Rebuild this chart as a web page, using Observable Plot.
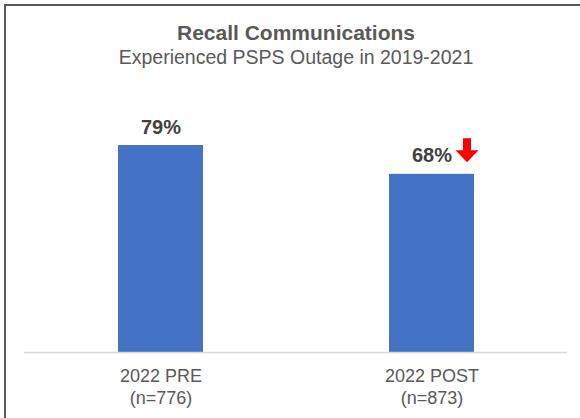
<!DOCTYPE html>
<html>
<head>
<meta charset="utf-8">
<script src="https://cdn.jsdelivr.net/npm/d3@7"></script>
<script src="https://cdn.jsdelivr.net/npm/@observablehq/plot@0.6"></script>
<style>
  html, body { margin: 0; padding: 0; background: #fff; }
  #wrap { position: relative; width: 580px; height: 418px; overflow: hidden; font-family: Arial, "Liberation Sans", sans-serif; }
  #frame { position: absolute; left: 4px; top: 4px; width: 600px; height: 500px; border-left: 2px solid #5a5a5a; border-top: 2px solid #5a5a5a; box-sizing: border-box; }
  .ttl { position: absolute; left: 0; width: 592px; text-align: center; color: #595959; white-space: nowrap; }
  #title { top: 22px; font-size: 21px; line-height: 21px; font-weight: bold; }
  #subtitle { top: 47.5px; font-size: 19.5px; line-height: 19.5px; }
  #chart { position: absolute; left: 0; top: 0; }
</style>
</head>
<body>
<div id="wrap">
  <div id="frame"></div>
  <div class="ttl" id="title">Recall Communications</div>
  <div class="ttl" id="subtitle">Experienced PSPS Outage in 2019-2021</div>
  <div id="chart"></div>
</div>
<script>
const categories = ["2022 PRE", "2022 POST"];
const sampleSizes = [776, 873];
const values = [79, 68];
const changes = ["", "down"];

const data = categories.map((c, i) => ({cat: c, n: sampleSizes[i], value: values[i], change: changes[i]}));
const tickText = new Map(data.map(d => [d.cat, `${d.cat}\n(n=${d.n})`]));

const downArrow = {
  draw(ctx) {
    ctx.moveTo(-4, -12);
    ctx.lineTo(4, -12);
    ctx.lineTo(4, 0);
    ctx.lineTo(11.5, 0);
    ctx.lineTo(0, 12);
    ctx.lineTo(-11.5, 0);
    ctx.lineTo(-4, 0);
    ctx.closePath();
  }
};

const plot = Plot.plot({
  width: 580,
  height: 418,
  marginLeft: 24,
  marginRight: 13,
  marginTop: 90,
  marginBottom: 66,
  style: {fontFamily: 'Arial, "Liberation Sans", sans-serif', background: "transparent"},
  x: {domain: categories, paddingInner: 0.687, paddingOuter: 0.343, label: null},
  y: {domain: [0, 100], axis: null},
  marks: [
    Plot.barY(data, {x: "cat", y: "value", fill: "#4472C4"}),
    Plot.ruleY([0], {stroke: "#d9d9d9", strokeWidth: 1.5}),
    Plot.axisX({tickSize: 0, tickPadding: 14, fontSize: 18, lineHeight: 1.22, fill: "#595959", tickFormat: d => tickText.get(d), label: null}),
    Plot.text(data, {x: "cat", y: "value", text: d => `${d.value}%`, lineAnchor: "bottom", dy: -12, fontSize: 20, fontWeight: "bold", fill: "#404040"}),
    Plot.dot(data.filter(d => d.change === "down"), {x: "cat", y: "value", dx: 35, dy: -24, symbol: downArrow, fill: "#ff0000", stroke: "none"})
  ]
});
document.getElementById("chart").appendChild(plot);
</script>
</body>
</html>
